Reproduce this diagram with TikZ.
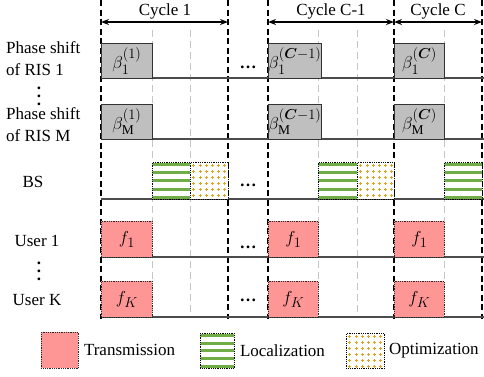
\documentclass[tikz,border=0pt]{standalone}
\usepackage{fontspec}
\setmainfont{Liberation Serif}
\usepackage{amsmath}
\usetikzlibrary{arrows.meta, positioning, calc}
\definecolor{locgreen}{RGB}{112,173,71}
\definecolor{optgold}{RGB}{218,165,32}
\definecolor{txpink}{RGB}{255,150,150}
\DeclareMathSizes{18.5}{18.5}{13.5}{10}
\DeclareMathSizes{19}{19}{13.5}{10}
\newcommand{\rowvdots}{\vbox{\baselineskip=8pt\lineskiplimit=0pt\hbox{.}\hbox{.}\hbox{.}}}

\begin{document}
\begin{tikzpicture}[x=1pt, y=-1pt,
    lbl/.style={font=\fontsize{17}{22}\selectfont, inner sep=0pt},
    vdots/.style={font=\fontsize{17}{8}\selectfont\bfseries, inner sep=0pt},
    phasebox/.style={draw=black!80, line width=0.9pt, fill=gray!50, anchor=north west, inner sep=0pt, minimum height=35pt, font=\fontsize{18.5}{20}\selectfont},
    txbox/.style={draw=black!85, densely dotted, line width=0.8pt, fill=txpink, anchor=north west, inner sep=0pt, minimum height=36pt, font=\fontsize{19}{20}\selectfont},
    locbox/.style={draw=black, densely dotted, line width=0.8pt, fill=white, anchor=north west, inner sep=0pt, minimum height=37pt,
        path picture={\foreach \k in {0.06,0.28,0.5,0.72,0.94}
            \draw[locgreen, solid, line width=3pt] ($(path picture bounding box.north west)!\k!(path picture bounding box.south west)$) -- ($(path picture bounding box.north east)!\k!(path picture bounding box.south east)$);}},
    optbox/.style={draw=black, densely dotted, line width=0.8pt, fill=white, anchor=north west, inner sep=0pt, minimum height=37pt,
        path picture={\foreach \i in {0,...,5} \foreach \j in {0,...,5}
            \draw[optgold, solid, line width=0.9pt] ($(path picture bounding box.north west)+(\i*6.2+1.9,\j*6+3.4)$) -- ++(3,0) ($(path picture bounding box.north west)+(\i*6.2+3.4,\j*6+1.9)$) -- ++(0,3);}},
    span/.style={{Stealth[length=8pt,width=6pt]}-{Stealth[length=8pt,width=6pt]}, line width=1.3pt},
    bigdash/.style={black, line width=1.1pt, dash pattern=on 6pt off 3.5pt},
    smalldash/.style={gray!45, line width=1pt, dash pattern=on 7pt off 4pt},
    rowline/.style={black!70, line width=1.2pt},
]
\useasboundingbox (0,0) rectangle (484,376);

% time grid
\foreach \x in {101,228,268,394,482} \draw[bigdash] (\x,0) -- (\x,319);
\foreach \x in {152,190,318,357,444} \draw[smalldash] (\x,30) -- (\x,317);
\foreach \y in {78,139,199,257,317} \draw[rowline] (101,\y) -- (484,\y);

% cycles
\node[lbl] (cyc1) at (165,11) {Cycle 1};
\node[lbl] (cycC1) at (331,11) {Cycle C-1};
\node[lbl] (cycC) at (438,11) {Cycle C};
\coordinate (s0) at (101,22);
\coordinate (s1) at (228,22);
\coordinate (s2) at (268,22);
\coordinate (s3) at (394,22);
\coordinate (s4) at (482,22);
\draw[span] (s0) -- (s1);
\draw[span] (s2) -- (s3);
\draw[span] (s3) -- (s4);

% row labels
\node[lbl, anchor=west, align=left] (ris1) at (6,59) {Phase shift\\of RIS 1};
\node[vdots] (risdots) at (39,96) {\rowvdots};
\node[lbl, anchor=west, align=left] (risM) at (6,125) {Phase shift\\of RIS M};
\node[lbl] (bs) at (33,182) {BS};
\node[lbl] (user1) at (37,241) {User 1};
\node[vdots] (userdots) at (39,271) {\rowvdots};
\node[lbl] (userK) at (37,300) {User K};

% phase shifts
\node[phasebox, minimum width=51pt] (b1c1) at (101,43) {$\beta_{1}^{(1)}$};
\node[phasebox, minimum width=50pt] (b1c2) at (268,43) {$\beta_{1}^{(\boldsymbol{C}-1)}$};
\node[phasebox, minimum width=50pt] (b1c3) at (394,43) {$\beta_{1}^{(\boldsymbol{C})}$};
\node[phasebox, minimum width=51pt] (bMc1) at (101,104) {$\beta_{\mathrm{M}}^{(1)}$};
\node[phasebox, minimum width=50pt] (bMc2) at (268,104) {$\beta_{\mathrm{M}}^{(\boldsymbol{C}-1)}$};
\node[phasebox, minimum width=50pt] (bMc3) at (394,104) {$\beta_{\mathrm{M}}^{(\boldsymbol{C})}$};

% base station
\node[locbox, minimum width=38pt] (loc1) at (152,162) {};
\node[optbox, minimum width=38pt] (opt1) at (190,162) {};
\node[locbox, minimum width=39pt] (loc2) at (318,162) {};
\node[optbox, minimum width=37pt] (opt2) at (357,162) {};
\node[locbox, minimum width=38pt] (loc3) at (444,162) {};

% users
\node[txbox, minimum width=51pt] (f1c1) at (101,221) {$f_1$};
\node[txbox, minimum width=50pt] (f1c2) at (268,221) {$f_1$};
\node[txbox, minimum width=50pt] (f1c3) at (394,221) {$f_1$};
\node[txbox, minimum width=51pt] (fKc1) at (101,281) {$f_K$};
\node[txbox, minimum width=50pt] (fKc2) at (268,281) {$f_K$};
\node[txbox, minimum width=50pt] (fKc3) at (394,281) {$f_K$};

% skipped cycles
\node[lbl] (gap1) at (248,67) {\textbf{\dots}};
\node[lbl] (gap2) at (248,185) {\textbf{\dots}};
\node[lbl] (gap3) at (248,247) {\textbf{\dots}};
\node[lbl] (gap4) at (248,300) {\textbf{\dots}};

% legend
\node[txbox, minimum width=37pt] (legtx) at (41,332) {};
\node[lbl, right=5pt of legtx] (legtxl) {Transmission};
\node[locbox, minimum width=34pt, minimum height=35pt] (legloc) at (200,333) {};
\node[lbl, right=5pt of legloc] (leglocl) {Localization};
\node[optbox, minimum width=38pt, minimum height=35pt] (legopt) at (346,333) {};
\node[lbl, right=4pt of legopt] (legoptl) {Optimization};
\end{tikzpicture}
\end{document}
